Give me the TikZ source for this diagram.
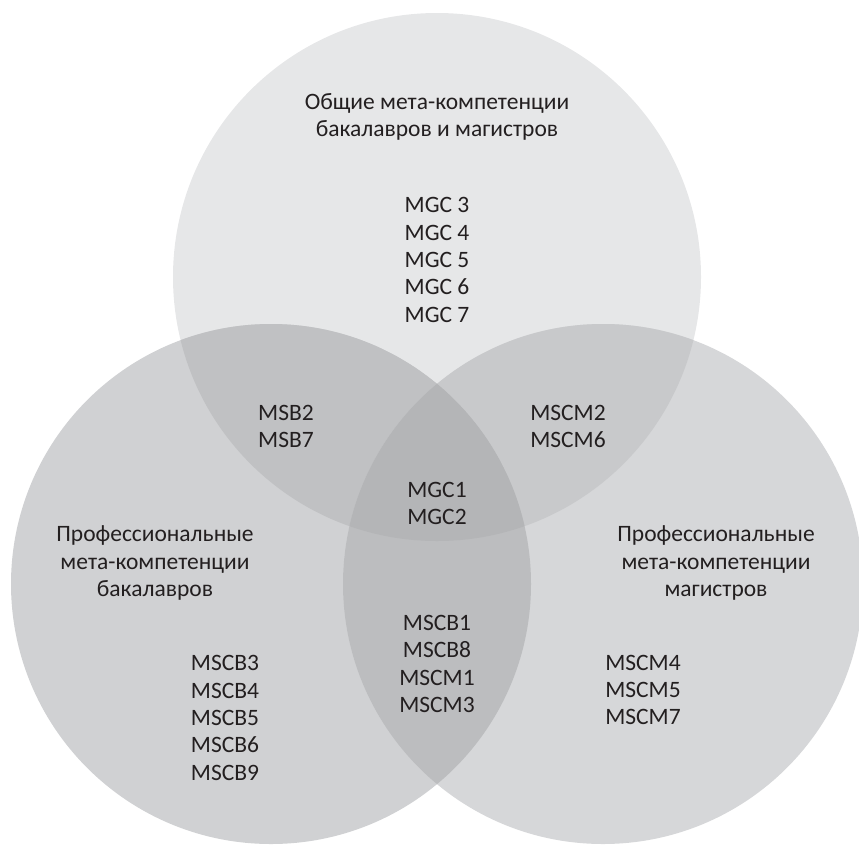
\documentclass[tikz,border=0pt]{standalone}
\usepackage{fontspec}
\setmainfont{Carlito}
\definecolor{ctop}{HTML}{E6E7E8}
\definecolor{cleft}{HTML}{D0D1D3}
\definecolor{cright}{HTML}{D6D7D9}
\definecolor{ctl}{HTML}{C0C1C3}
\definecolor{ctr}{HTML}{C8C9CB}
\definecolor{clr}{HTML}{BCBDBF}
\definecolor{cmid}{HTML}{B4B5B7}
\definecolor{ink}{HTML}{231F20}
\tikzset{
  lbl/.style={align=center, inner sep=0pt, text=ink, font=\fontsize{23.5pt}{27.3pt}\selectfont}
}
\begin{document}
\begin{tikzpicture}[x=1pt,y=-1pt]
\useasboundingbox (0,0) rectangle (859,849);
\clip (0,0) rectangle (859,849);
\def\TopC{(437,277) circle (264pt)}
\def\LeftC{(271,584) circle (260pt)}
\def\RightC{(603,584) circle (260pt)}
\fill[ctop] \TopC;
\fill[cleft] \LeftC;
\fill[cright] \RightC;
\begin{scope}\clip \TopC; \fill[ctl] \LeftC; \end{scope}
\begin{scope}\clip \TopC; \fill[ctr] \RightC; \end{scope}
\begin{scope}\clip \LeftC; \fill[clr] \RightC; \end{scope}
\begin{scope}\clip \TopC; \clip \LeftC; \fill[cmid] \RightC; \end{scope}

\node[lbl] (title) at (437,117) {Общие мета-компетенции\\бакалавров и магистров};
\node[lbl] (mgcA) at (437,260) {MGC 3\\MGC 4\\MGC 5\\MGC 6\\MGC 7};
\node[lbl] (msb) at (286,426.5) {MSB2\\MSB7};
\node[lbl] (mscmA) at (568,426.5) {MSCM2\\MSCM6};
\node[lbl] (mgcB) at (437,503.5) {MGC1\\MGC2};
\node[lbl] (leftlbl) at (155,563) {Профессиональные\\мета-компетенции\\бакалавров};
\node[lbl] (rightlbl) at (716,563) {Профессиональные\\мета-компетенции\\магистров};
\node[lbl] (mid) at (437,664) {MSCB1\\MSCB8\\MSCM1\\MSCM3};
\node[lbl] (mscb) at (225,718) {MSCB3\\MSCB4\\MSCB5\\MSCB6\\MSCB9};
\node[lbl] (mscmB) at (643,690) {MSCM4\\MSCM5\\MSCM7};
\end{tikzpicture}
\end{document}
